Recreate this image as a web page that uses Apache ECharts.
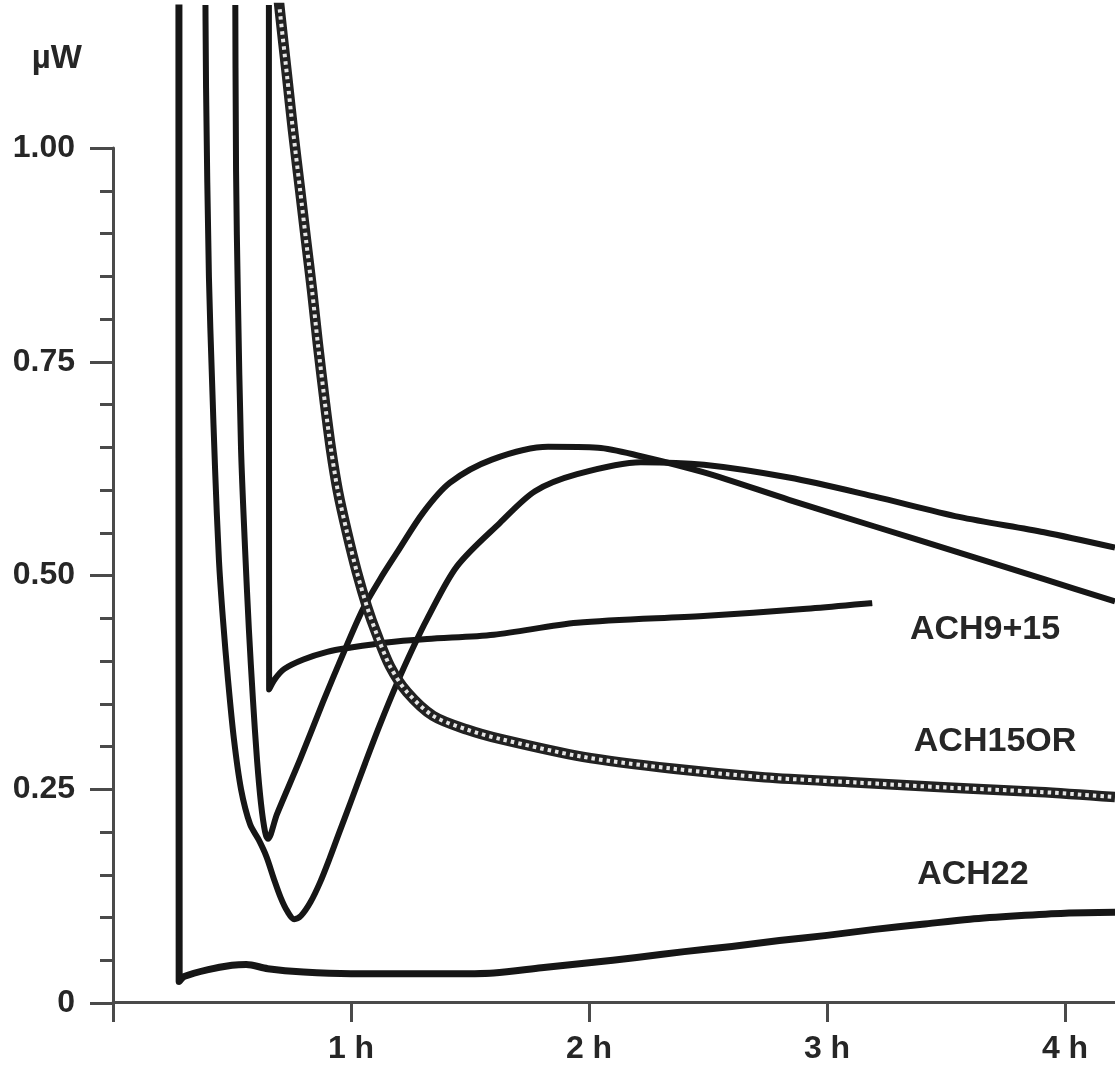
<!DOCTYPE html>
<html>
<head>
<meta charset="utf-8">
<script src="https://cdn.jsdelivr.net/npm/echarts@6/dist/echarts.min.js"></script>
<style>
html,body{margin:0;padding:0;background:#fff;}
#chart{width:1115px;height:1065px;}
</style>
</head>
<body>
<div id="chart"></div>
<script>
// ---- data (time in hours, heat flow in µW) ----
const xTickValues = [0, 1, 2, 3, 4];
const xLabelValues = [1, 2, 3, 4];
const yLabelValues = [0, 0.25, 0.5, 0.75, 1.0];

const ach22 = [[0.277,1.25],[0.278,0.024],[0.30,0.030],[0.40,0.038],[0.50,0.043],[0.56,0.044],[0.65,0.039],[0.80,0.035],[1.0,0.033],[1.2,0.033],[1.4,0.033],[1.6,0.034],[1.8,0.040],[2.0,0.046],[2.2,0.052],[2.4,0.059],[2.6,0.065],[2.8,0.072],[3.0,0.078],[3.2,0.085],[3.4,0.091],[3.6,0.097],[3.8,0.101],[4.0,0.104],[4.21,0.105]];

const ach9p15 = [[0.655,1.25],[0.656,0.366],[0.68,0.378],[0.72,0.390],[0.80,0.401],[0.90,0.410],[1.0,0.415],[1.15,0.421],[1.32,0.425],[1.6,0.430],[1.95,0.444],[2.48,0.452],[2.9,0.460],[3.19,0.467]];

const ach15or = [[0.668,1.25],[0.702,1.158],[0.731,1.085],[0.756,1.021],[0.786,0.951],[0.811,0.892],[0.836,0.834],[0.861,0.770],[0.891,0.700],[0.916,0.647],[0.945,0.598],[0.983,0.550],[1.025,0.503],[1.067,0.463],[1.109,0.430],[1.164,0.393],[1.235,0.363],[1.345,0.335],[1.487,0.319],[1.626,0.308],[1.975,0.287],[2.357,0.273],[2.739,0.263],[3.122,0.257],[3.508,0.251],[3.891,0.246],[4.21,0.240]];

const curveDeepMin = [[0.387,1.25],[0.391,1.070],[0.403,0.849],[0.416,0.729],[0.429,0.623],[0.445,0.518],[0.462,0.448],[0.483,0.378],[0.508,0.308],[0.538,0.249],[0.576,0.208],[0.612,0.190],[0.645,0.170],[0.675,0.145],[0.705,0.122],[0.733,0.106],[0.761,0.097],[0.790,0.101],[0.830,0.117],[0.870,0.140],[0.910,0.168],[0.950,0.198],[1.000,0.235],[1.060,0.280],[1.122,0.325],[1.193,0.373],[1.261,0.415],[1.319,0.448],[1.445,0.510],[1.626,0.561],[1.773,0.598],[1.950,0.618],[2.218,0.632],[2.483,0.629],[2.840,0.614],[3.197,0.592],[3.555,0.568],[3.912,0.550],[4.21,0.532]];

const curveEarlyPeak = [[0.513,1.25],[0.517,0.974],[0.525,0.822],[0.538,0.647],[0.555,0.530],[0.571,0.436],[0.588,0.354],[0.605,0.284],[0.622,0.232],[0.639,0.199],[0.651,0.191],[0.689,0.220],[0.786,0.284],[0.882,0.351],[0.966,0.407],[1.050,0.460],[1.122,0.495],[1.193,0.526],[1.303,0.573],[1.416,0.608],[1.592,0.635],[1.828,0.650],[2.038,0.649],[2.218,0.639],[2.483,0.620],[2.840,0.588],[3.197,0.557],[3.555,0.526],[3.912,0.495],[4.21,0.469]];

const annotations = [
  {name: 'ACH9+15', at: [3.664, 0.436]},
  {name: 'ACH15OR', at: [3.706, 0.305]},
  {name: 'ACH22',   at: [3.613, 0.149]}
];

// ---- layout constants ----
const X_MAX = 4.21;
const PLOT_LEFT = 113, PLOT_BOTTOM = 62, AXIS_TOP = 148, PLOT_TOP = 8;
const PX_PER_UNIT = (1065 - PLOT_BOTTOM - AXIS_TOP); // pixels for 1.0 µW
const Y_MAX = 1 + (AXIS_TOP - PLOT_TOP) / PX_PER_UNIT;

const INK = '#161616';
const AXIS = '#4a4a4a';
const TEXT = '#262626';
const FONT = 'Liberation Sans';

const chart = echarts.init(document.getElementById('chart'), null, {renderer: 'canvas'});

function ann(name) {
  const a = annotations.find(d => d.name === name);
  return {
    silent: true,
    symbol: 'circle', symbolSize: 1,
    itemStyle: {color: 'rgba(0,0,0,0)'},
    label: {show: true, position: 'inside', formatter: a.name,
      fontFamily: FONT, fontWeight: 'bold', fontSize: 34, color: TEXT},
    data: [{coord: a.at}]
  };
}

function lineSeries(name, data, width, extra) {
  return Object.assign({
    name: name, type: 'line', data: data,
    xAxisIndex: 0, yAxisIndex: 0,
    showSymbol: false, symbol: 'none',
    smooth: 0.3,
    lineStyle: {color: INK, width: width, join: 'round', cap: 'butt'},
    silent: true
  }, extra || {});
}

const option = {
  animation: false,
  backgroundColor: '#ffffff',
  grid: [
    {left: PLOT_LEFT, right: 0, top: PLOT_TOP, bottom: PLOT_BOTTOM},
    {left: PLOT_LEFT, right: 0, top: AXIS_TOP, bottom: PLOT_BOTTOM}
  ],
  xAxis: [
    {
      gridIndex: 0, type: 'value', min: 0, max: X_MAX, interval: 1,
      axisLine: {show: true, onZero: false, lineStyle: {color: AXIS, width: 3}},
      axisTick: {show: true, customValues: xTickValues, length: 20, lineStyle: {color: AXIS, width: 3}},
      axisLabel: {customValues: xLabelValues, formatter: v => v + ' h', margin: 31,
        fontFamily: FONT, fontWeight: 'bold', fontSize: 32, color: TEXT},
      splitLine: {show: false}
    },
    {gridIndex: 1, type: 'value', min: 0, max: X_MAX, show: false}
  ],
  yAxis: [
    {gridIndex: 0, type: 'value', min: 0, max: Y_MAX, show: false},
    {
      gridIndex: 1, type: 'value', min: 0, max: 1, interval: 0.25,
      name: 'µW', nameLocation: 'end', nameGap: 73,
      nameTextStyle: {fontFamily: FONT, fontWeight: 'bold', fontSize: 33, color: TEXT,
        align: 'right', padding: [0, 31, 0, 0]},
      axisLine: {show: true, onZero: false, lineStyle: {color: AXIS, width: 3}},
      axisTick: {show: true, length: 23, lineStyle: {color: AXIS, width: 3}},
      minorTick: {show: true, splitNumber: 5, length: 13, lineStyle: {color: AXIS, width: 3}},
      axisLabel: {customValues: yLabelValues, formatter: v => (v === 0 ? '0' : v.toFixed(2)), margin: 38,
        fontFamily: FONT, fontWeight: 'bold', fontSize: 32, color: TEXT},
      splitLine: {show: false}, minorSplitLine: {show: false}
    }
  ],
  series: [
    lineSeries('ACH22', ach22, 7, {markPoint: ann('ACH22')}),
    lineSeries('curveEarlyPeak', curveEarlyPeak, 6),
    lineSeries('curveDeepMin', curveDeepMin, 6),
    lineSeries('ACH9+15', ach9p15, 6, {markPoint: ann('ACH9+15')}),
    lineSeries('ACH15OR', ach15or, 10.5, {lineStyle: {color: '#222222', width: 10.5, join: 'round'}, markPoint: ann('ACH15OR')}),
    lineSeries('ACH15OR squares', ach15or, 4, {lineStyle: {color: '#e6e6e6', width: 4, type: [3.5, 4], join: 'round'}})
  ]
};

chart.setOption(option);
</script>
</body>
</html>
